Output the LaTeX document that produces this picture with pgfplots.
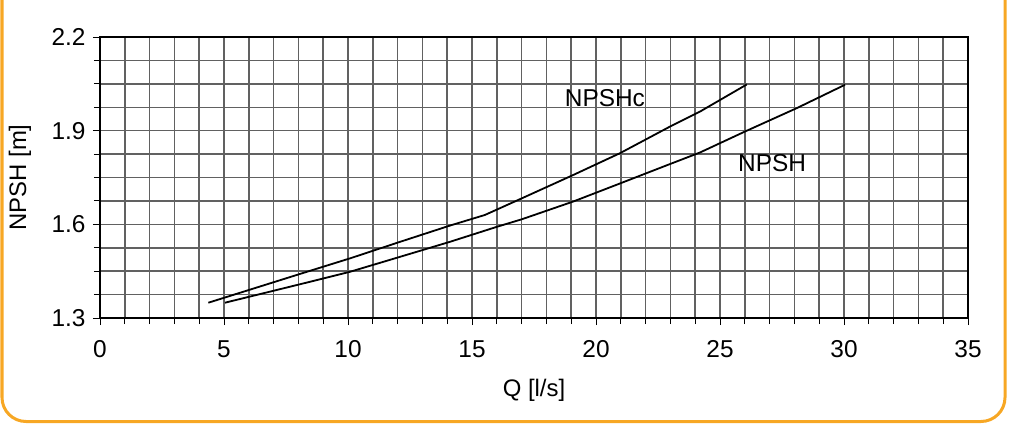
\documentclass[border=0pt]{standalone}
\usepackage{fontspec}
\setmainfont{Liberation Sans}
\usepackage{pgfplots}
\pgfplotsset{compat=1.18}
\definecolor{frameorange}{RGB}{247,167,36}
\begin{document}
\begin{tikzpicture}[x=1bp,y=1bp]
\useasboundingbox (0,0) rectangle (1010,426);
\clip (0,0) rectangle (1010,426);
\draw[frameorange, line width=3bp, rounded corners=24bp] (2,4.5) rectangle (1005,450);
\begin{axis}[
  at={(100bp,108bp)}, anchor=south west,
  scale only axis, width=868bp, height=281bp,
  xmin=0, xmax=35, ymin=1.3, ymax=2.2,
  xtick={0,5,...,35}, ytick={1.3,1.6,1.9,2.2},
  minor x tick num=4, minor y tick num=3,
  xtick pos=bottom, ytick pos=left,
  grid=both,
  grid style={line width=1.5bp, black!62},
  major grid style={line width=1.5bp, black!62},
  minor grid style={line width=1.5bp, black!62},
  axis line style={line width=1.8bp},
  tick align=outside,
  major tick length=7bp, minor tick length=6bp,
  tick style={line width=1bp, black},
  ticklabel style={font=\fontsize{24.5}{24.5}\selectfont},
  xticklabel style={yshift=-12bp},
  yticklabel style={xshift=-4bp, /pgf/number format/.cd, fixed, precision=1, fixed zerofill},
  /pgf/number format/assume math mode=true,
  xlabel={Q [l/s]}, ylabel={NPSH [m]},
  label style={font=\fontsize{24}{24}\selectfont},
  xlabel style={at={(axis description cs:0.5,0)}, anchor=center, yshift=-72bp},
  ylabel style={at={(axis description cs:0,0.5)}, anchor=center, yshift=80bp},
]
\addplot[black, line width=1.8bp] coordinates {
 (4.37,1.349) (8.06,1.441) (10.08,1.491) (12.1,1.544) (14.11,1.596) (15.52,1.630)
 (17.0,1.683) (19.08,1.758) (20.97,1.828) (22.98,1.913) (24.19,1.961) (26.08,2.048)};
\addplot[black, line width=1.8bp] coordinates {
 (5.04,1.349) (8.06,1.408) (10.08,1.448) (12.1,1.496) (14.11,1.544) (16.0,1.592)
 (17.0,1.616) (19.08,1.673) (20.97,1.731) (22.98,1.793) (24.19,1.830) (26.0,1.897)
 (28.09,1.972) (30.04,2.047)};
\node[font=\fontsize{24.5}{24.5}\selectfont] at (axis cs:20.36,2.005) {NPSHc};
\node[font=\fontsize{24.5}{24.5}\selectfont] at (axis cs:27.1,1.796) {NPSH};
\end{axis}
\end{tikzpicture}
\end{document}
